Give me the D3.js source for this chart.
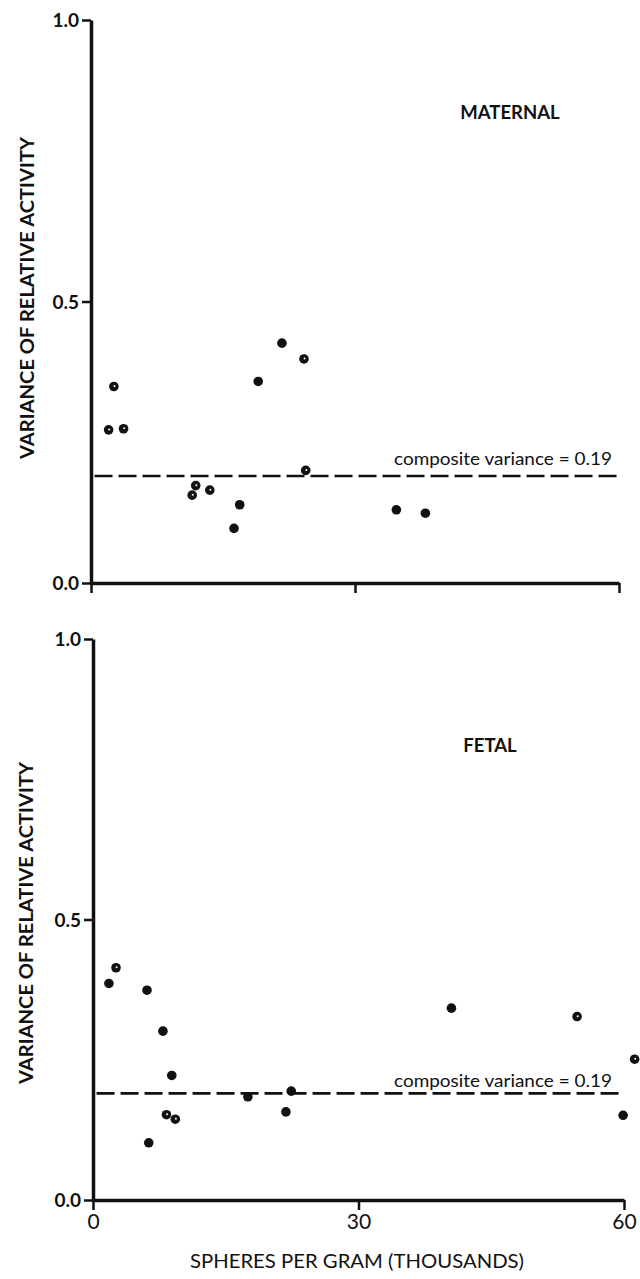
<!DOCTYPE html>
<html>
<head>
<meta charset="utf-8">
<script src="https://cdn.jsdelivr.net/npm/d3@7"></script>
<style>
  html, body { margin: 0; padding: 0; background: #fff; }
  svg { display: block; }
  .tick text { font-family: Lato, "Noto Sans", sans-serif; fill: #111; }
</style>
</head>
<body>
<svg id="chart" width="640" height="1279"></svg>
<script>
// values (x in thousands of spheres per gram)
const maternalX = [2.0, 2.6, 3.7, 11.5, 11.9, 13.5, 16.25, 16.9, 19.0, 21.7, 24.2, 24.4, 34.7, 38.0];
const maternalY = [0.272, 0.349, 0.274, 0.156, 0.173, 0.165, 0.097, 0.139, 0.358, 0.426, 0.398, 0.200, 0.130, 0.124];
const maternalSpot = [1, 1, 1, 1, 1, 1, 0, 0, 0, 0, 1, 1, 0, 0];

const fetalX = [1.8, 2.6, 6.1, 6.3, 7.9, 8.3, 8.9, 9.3, 17.5, 21.8, 22.4, 40.5, 54.7, 59.9, 61.2];
const fetalY = [0.386, 0.414, 0.374, 0.102, 0.301, 0.152, 0.222, 0.144, 0.184, 0.157, 0.194, 0.342, 0.327, 0.151, 0.251];
const fetalSpot = [0, 1, 0, 0, 0, 1, 0, 1, 0, 0, 0, 0, 1, 0, 1];

const compositeVariance = [0.19, 0.19];
const yTicks = [0, 0.5, 1.0];
const xTicks = [0, 30, 60];
const panelTitles = ['MATERNAL', 'FETAL'];

const FONT = 'Lato, "Noto Sans", sans-serif';
const INK = '#111';

const svg = d3.select('#chart');

// panel geometry (pixels)
const panels = [
  { title: panelTitles[0], xs: maternalX, ys: maternalY, spots: maternalSpot,
    left: 91, right: 619, top: 20, bottom: 583, labels: false,
    titleX: 510, titleY: 119, yTitleX: 34, yTitleY: 298, noteX: 612, noteY: 465 },
  { title: panelTitles[1], xs: fetalX, ys: fetalY, spots: fetalSpot,
    left: 93, right: 624, top: 639, bottom: 1200, labels: true,
    titleX: 490, titleY: 752, yTitleX: 33, yTitleY: 923, noteX: 612, noteY: 1087 }
];

panels.forEach(p => {
  const x = d3.scaleLinear().domain([0, 60]).range([p.left, p.right]);
  const y = d3.scaleLinear().domain([0, 1]).range([p.bottom, p.top]);
  const g = svg.append('g');

  // y axis
  const yAxis = g.append('g')
    .attr('transform', `translate(${p.left},0)`)
    .call(d3.axisLeft(y).tickValues(yTicks).tickFormat(d3.format('.1f')).tickSize(9).tickSizeOuter(0).tickPadding(3));
  yAxis.select('.domain').attr('stroke', INK).attr('stroke-width', 3.5);
  yAxis.selectAll('.tick line').attr('stroke', INK).attr('stroke-width', 2.5);
  yAxis.selectAll('.tick text').attr('font-size', 19).attr('font-weight', 700).attr('dy', '0.35em');

  // x axis
  const xAxis = g.append('g')
    .attr('transform', `translate(0,${p.bottom})`)
    .call(d3.axisBottom(x).tickValues(xTicks).tickFormat(p.labels ? d3.format('d') : () => '')
      .tickSize(10).tickSizeOuter(0).tickPadding(4));
  xAxis.select('.domain').attr('stroke', INK).attr('stroke-width', 3.5);
  xAxis.selectAll('.tick line').attr('stroke', INK).attr('stroke-width', 2.5);
  xAxis.selectAll('.tick text').attr('font-size', 21).attr('font-weight', 400);

  // composite variance line
  g.append('line')
    .attr('x1', x(0.4)).attr('x2', x(60))
    .attr('y1', y(compositeVariance[0])).attr('y2', y(compositeVariance[1]))
    .attr('stroke', INK).attr('stroke-width', 2.6)
    .attr('stroke-dasharray', '18 6');

  g.append('text')
    .attr('x', p.noteX).attr('y', p.noteY)
    .attr('text-anchor', 'end')
    .attr('font-family', FONT).attr('font-size', 18)
    .attr('fill', INK)
    .attr('textLength', 218).attr('lengthAdjust', 'spacingAndGlyphs')
    .text('composite variance = 0.19');

  // points
  const pts = p.xs.map((v, i) => ({ x: v, y: p.ys[i], spot: p.spots[i] }));
  g.selectAll('circle.pt').data(pts).enter().append('circle')
    .attr('class', 'pt')
    .attr('cx', d => x(d.x)).attr('cy', d => y(d.y))
    .attr('r', 4.8).attr('fill', INK);
  g.selectAll('circle.spot').data(pts.filter(d => d.spot)).enter().append('circle')
    .attr('class', 'spot')
    .attr('cx', d => x(d.x) + 0.6).attr('cy', d => y(d.y) - 0.4)
    .attr('r', 1.0).attr('fill', '#fff');

  // panel title
  g.append('text')
    .attr('x', p.titleX).attr('y', p.titleY)
    .attr('text-anchor', 'middle')
    .attr('font-family', FONT).attr('font-size', 18.5).attr('font-weight', 700)
    .attr('fill', INK)
    .text(p.title);

  // y title
  g.append('text')
    .attr('transform', `translate(${p.yTitleX},${p.yTitleY}) rotate(-90)`)
    .attr('text-anchor', 'middle')
    .attr('font-family', FONT).attr('font-size', 19).attr('font-weight', 700)
    .attr('fill', INK)
    .attr('textLength', 322).attr('lengthAdjust', 'spacingAndGlyphs')
    .text('VARIANCE OF RELATIVE ACTIVITY');
});

// x title
svg.append('text')
  .attr('x', 357).attr('y', 1268)
  .attr('text-anchor', 'middle')
  .attr('font-family', FONT).attr('font-size', 19)
  .attr('fill', INK)
  .attr('textLength', 334).attr('lengthAdjust', 'spacingAndGlyphs')
  .text('SPHERES PER GRAM (THOUSANDS)');
</script>
</body>
</html>
